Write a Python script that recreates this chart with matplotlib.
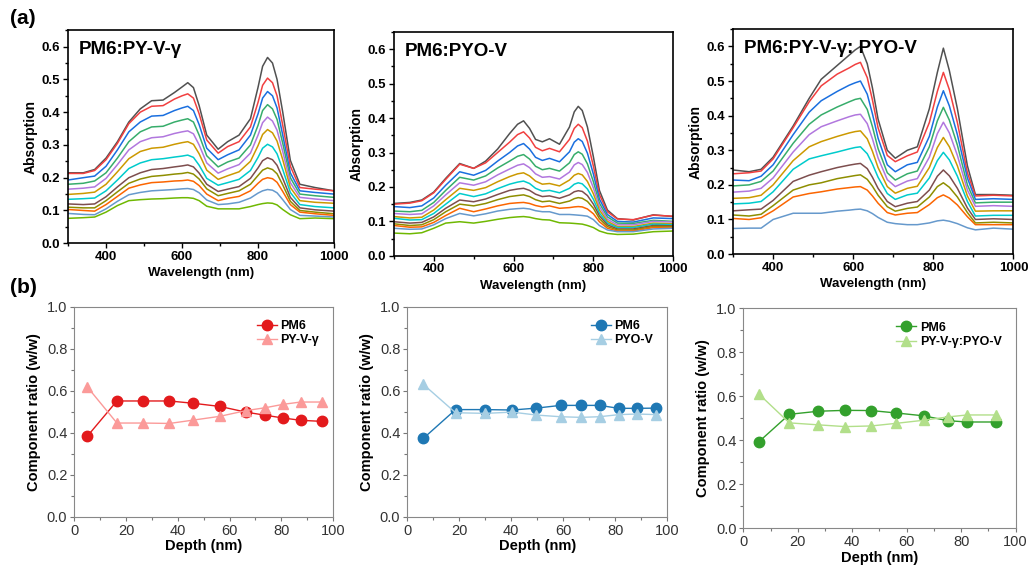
import matplotlib
matplotlib.use('Agg')
import matplotlib.pyplot as plt
from matplotlib.ticker import MultipleLocator

plt.rcParams['font.family'] = ['Liberation Sans', 'DejaVu Sans']

# curve colours (top to bottom)
spec_colors = ['#515151', '#F14040', '#1A6FDF', '#37AD6B', '#B177DE', '#CC9900',
               '#00CBCC', '#7D4E4E', '#8E8E00', '#FB6501', '#6699CC', '#6FB802']

# ---- (a) absorption spectra ----
titles_a = ['PM6:PY-V-γ', 'PM6:PYO-V', 'PM6:PY-V-γ: PYO-V']

wl_1 = [300, 340, 370, 400, 430, 460, 490, 520, 550, 580, 600, 615, 630, 645, 665,
        695, 720, 750, 780, 800, 812, 825, 838, 850, 865, 885, 910, 950, 1000]
abs_1 = [
    [0.215, 0.215, 0.225, 0.26, 0.31, 0.37, 0.41, 0.435, 0.437, 0.46, 0.477, 0.49, 0.475, 0.42, 0.33, 0.287, 0.31, 0.33, 0.38, 0.476, 0.54, 0.567, 0.55, 0.5, 0.4, 0.253, 0.18, 0.17, 0.16],
    [0.213, 0.213, 0.222, 0.255, 0.305, 0.365, 0.4, 0.418, 0.42, 0.44, 0.45, 0.456, 0.443, 0.395, 0.315, 0.275, 0.295, 0.31, 0.355, 0.43, 0.482, 0.504, 0.49, 0.45, 0.36, 0.235, 0.17, 0.165, 0.16],
    [0.193, 0.2, 0.205, 0.235, 0.285, 0.34, 0.37, 0.388, 0.39, 0.405, 0.413, 0.418, 0.405, 0.362, 0.29, 0.255, 0.27, 0.285, 0.33, 0.395, 0.443, 0.463, 0.45, 0.413, 0.33, 0.215, 0.16, 0.155, 0.15],
    [0.18, 0.183, 0.19, 0.215, 0.26, 0.31, 0.34, 0.355, 0.357, 0.37, 0.376, 0.38, 0.37, 0.33, 0.267, 0.233, 0.248, 0.26, 0.3, 0.36, 0.405, 0.423, 0.41, 0.378, 0.305, 0.2, 0.15, 0.145, 0.14],
    [0.165, 0.168, 0.172, 0.198, 0.24, 0.285, 0.31, 0.322, 0.325, 0.335, 0.34, 0.343, 0.334, 0.3, 0.245, 0.214, 0.227, 0.24, 0.275, 0.33, 0.368, 0.385, 0.373, 0.345, 0.28, 0.185, 0.14, 0.135, 0.13],
    [0.149, 0.152, 0.156, 0.18, 0.218, 0.258, 0.28, 0.29, 0.293, 0.302, 0.307, 0.31, 0.302, 0.273, 0.223, 0.195, 0.206, 0.218, 0.25, 0.298, 0.332, 0.347, 0.337, 0.312, 0.255, 0.17, 0.13, 0.125, 0.122],
    [0.134, 0.136, 0.138, 0.16, 0.193, 0.228, 0.245, 0.255, 0.258, 0.263, 0.266, 0.269, 0.262, 0.238, 0.198, 0.177, 0.185, 0.195, 0.222, 0.262, 0.29, 0.302, 0.294, 0.273, 0.225, 0.155, 0.118, 0.112, 0.108],
    [0.12, 0.118, 0.12, 0.142, 0.172, 0.2, 0.215, 0.225, 0.228, 0.233, 0.236, 0.239, 0.233, 0.214, 0.18, 0.158, 0.165, 0.173, 0.198, 0.23, 0.252, 0.261, 0.255, 0.238, 0.198, 0.14, 0.108, 0.102, 0.098],
    [0.11, 0.108, 0.108, 0.13, 0.157, 0.183, 0.196, 0.204, 0.207, 0.211, 0.213, 0.216, 0.211, 0.196, 0.166, 0.145, 0.152, 0.16, 0.18, 0.207, 0.223, 0.23, 0.225, 0.212, 0.178, 0.128, 0.1, 0.095, 0.09],
    [0.103, 0.1, 0.098, 0.118, 0.143, 0.168, 0.178, 0.185, 0.187, 0.19, 0.191, 0.193, 0.189, 0.176, 0.15, 0.13, 0.137, 0.143, 0.16, 0.183, 0.195, 0.2, 0.197, 0.186, 0.158, 0.118, 0.095, 0.09, 0.085],
    [0.091, 0.088, 0.087, 0.105, 0.128, 0.148, 0.155, 0.16, 0.162, 0.164, 0.166, 0.167, 0.164, 0.154, 0.132, 0.118, 0.12, 0.125, 0.138, 0.153, 0.16, 0.164, 0.162, 0.154, 0.133, 0.103, 0.085, 0.083, 0.08],
    [0.076, 0.078, 0.08, 0.095, 0.115, 0.13, 0.133, 0.135, 0.136, 0.138, 0.139, 0.139, 0.137, 0.13, 0.113, 0.105, 0.105, 0.105, 0.112, 0.118, 0.121, 0.123, 0.122, 0.117, 0.103, 0.087, 0.075, 0.077, 0.075],
]

wl_2 = [300, 340, 370, 400, 430, 465, 500, 530, 560, 590, 610, 625, 640, 655, 672,
        690, 715, 740, 752, 762, 772, 785, 800, 815, 835, 860, 900, 950, 1000]
abs_2 = [
    [0.152, 0.155, 0.162, 0.185, 0.225, 0.268, 0.254, 0.275, 0.31, 0.355, 0.382, 0.392, 0.37, 0.338, 0.331, 0.34, 0.324, 0.374, 0.418, 0.434, 0.422, 0.374, 0.287, 0.19, 0.133, 0.108, 0.104, 0.119, 0.114],
    [0.15, 0.153, 0.16, 0.183, 0.222, 0.266, 0.254, 0.27, 0.3, 0.33, 0.352, 0.36, 0.342, 0.315, 0.305, 0.312, 0.302, 0.338, 0.37, 0.382, 0.372, 0.333, 0.26, 0.178, 0.128, 0.107, 0.105, 0.118, 0.115],
    [0.143, 0.14, 0.145, 0.168, 0.205, 0.244, 0.234, 0.248, 0.275, 0.3, 0.319, 0.326, 0.31, 0.286, 0.277, 0.283, 0.273, 0.302, 0.33, 0.34, 0.332, 0.298, 0.237, 0.165, 0.12, 0.1, 0.098, 0.11, 0.108],
    [0.13, 0.128, 0.132, 0.155, 0.19, 0.228, 0.22, 0.232, 0.255, 0.275, 0.289, 0.294, 0.281, 0.26, 0.25, 0.254, 0.246, 0.27, 0.294, 0.302, 0.295, 0.267, 0.215, 0.153, 0.113, 0.095, 0.094, 0.103, 0.1],
    [0.123, 0.12, 0.122, 0.145, 0.177, 0.212, 0.205, 0.215, 0.235, 0.252, 0.263, 0.267, 0.256, 0.238, 0.228, 0.23, 0.223, 0.243, 0.264, 0.271, 0.265, 0.242, 0.197, 0.143, 0.106, 0.09, 0.09, 0.1, 0.098],
    [0.114, 0.11, 0.112, 0.133, 0.163, 0.196, 0.19, 0.198, 0.215, 0.23, 0.238, 0.241, 0.232, 0.217, 0.208, 0.21, 0.203, 0.22, 0.234, 0.239, 0.235, 0.216, 0.18, 0.133, 0.1, 0.085, 0.085, 0.095, 0.093],
    [0.109, 0.104, 0.105, 0.123, 0.15, 0.181, 0.172, 0.18, 0.195, 0.208, 0.214, 0.217, 0.21, 0.196, 0.188, 0.19, 0.183, 0.196, 0.208, 0.212, 0.209, 0.194, 0.164, 0.124, 0.095, 0.082, 0.082, 0.092, 0.09],
    [0.099, 0.095, 0.097, 0.113, 0.138, 0.162, 0.157, 0.165, 0.178, 0.19, 0.194, 0.196, 0.19, 0.179, 0.172, 0.174, 0.167, 0.177, 0.186, 0.189, 0.187, 0.175, 0.15, 0.116, 0.09, 0.078, 0.078, 0.088, 0.087],
    [0.093, 0.088, 0.09, 0.105, 0.128, 0.15, 0.145, 0.152, 0.163, 0.172, 0.175, 0.177, 0.172, 0.163, 0.157, 0.159, 0.152, 0.159, 0.166, 0.169, 0.167, 0.158, 0.138, 0.108, 0.085, 0.075, 0.075, 0.085, 0.085],
    [0.088, 0.083, 0.084, 0.097, 0.117, 0.138, 0.128, 0.136, 0.145, 0.152, 0.154, 0.155, 0.152, 0.146, 0.142, 0.145, 0.138, 0.14, 0.142, 0.143, 0.142, 0.136, 0.122, 0.099, 0.08, 0.072, 0.072, 0.082, 0.082],
    [0.08, 0.077, 0.078, 0.09, 0.108, 0.123, 0.116, 0.122, 0.13, 0.135, 0.137, 0.138, 0.136, 0.131, 0.128, 0.128, 0.12, 0.12, 0.119, 0.118, 0.117, 0.115, 0.105, 0.088, 0.075, 0.07, 0.07, 0.078, 0.08],
    [0.066, 0.064, 0.067, 0.08, 0.095, 0.099, 0.095, 0.1, 0.106, 0.111, 0.113, 0.114, 0.112, 0.108, 0.105, 0.104, 0.096, 0.095, 0.094, 0.093, 0.092, 0.088, 0.082, 0.072, 0.065, 0.062, 0.063, 0.07, 0.072],
]

wl_3 = [300, 340, 370, 400, 450, 490, 520, 560, 590, 605, 618, 635, 648, 662,
        685, 705, 735, 760, 790, 810, 825, 840, 860, 885, 905, 950, 1000]
abs_3 = [
    [0.243, 0.238, 0.245, 0.28, 0.37, 0.45, 0.505, 0.545, 0.575, 0.59, 0.6, 0.55, 0.48, 0.39, 0.3, 0.277, 0.3, 0.31, 0.42, 0.525, 0.595, 0.53, 0.42, 0.255, 0.172, 0.172, 0.17],
    [0.232, 0.235, 0.24, 0.275, 0.365, 0.44, 0.486, 0.52, 0.538, 0.548, 0.554, 0.51, 0.445, 0.365, 0.285, 0.267, 0.284, 0.295, 0.38, 0.47, 0.525, 0.475, 0.38, 0.235, 0.168, 0.17, 0.168],
    [0.214, 0.212, 0.225, 0.258, 0.345, 0.41, 0.443, 0.47, 0.488, 0.495, 0.5, 0.462, 0.405, 0.335, 0.258, 0.238, 0.258, 0.265, 0.34, 0.425, 0.472, 0.428, 0.345, 0.22, 0.158, 0.16, 0.158],
    [0.197, 0.2, 0.21, 0.24, 0.32, 0.375, 0.402, 0.425, 0.44, 0.447, 0.45, 0.418, 0.368, 0.305, 0.235, 0.214, 0.232, 0.24, 0.31, 0.385, 0.424, 0.387, 0.315, 0.2, 0.148, 0.15, 0.15],
    [0.179, 0.182, 0.19, 0.22, 0.295, 0.345, 0.368, 0.385, 0.397, 0.402, 0.404, 0.377, 0.333, 0.278, 0.215, 0.195, 0.211, 0.218, 0.28, 0.348, 0.381, 0.35, 0.285, 0.185, 0.138, 0.14, 0.138],
    [0.161, 0.163, 0.17, 0.2, 0.27, 0.31, 0.325, 0.34, 0.35, 0.354, 0.356, 0.333, 0.297, 0.25, 0.195, 0.176, 0.19, 0.196, 0.25, 0.308, 0.337, 0.31, 0.255, 0.168, 0.124, 0.125, 0.125],
    [0.145, 0.147, 0.152, 0.18, 0.245, 0.275, 0.284, 0.295, 0.304, 0.308, 0.31, 0.29, 0.26, 0.222, 0.175, 0.158, 0.171, 0.176, 0.22, 0.27, 0.294, 0.272, 0.225, 0.152, 0.11, 0.112, 0.112],
    [0.125, 0.128, 0.13, 0.155, 0.21, 0.228, 0.238, 0.25, 0.257, 0.26, 0.262, 0.247, 0.222, 0.19, 0.152, 0.137, 0.147, 0.152, 0.185, 0.225, 0.243, 0.226, 0.19, 0.133, 0.1, 0.102, 0.1],
    [0.113, 0.11, 0.115, 0.14, 0.185, 0.2, 0.206, 0.218, 0.224, 0.227, 0.229, 0.216, 0.196, 0.17, 0.137, 0.124, 0.132, 0.136, 0.165, 0.195, 0.206, 0.193, 0.165, 0.12, 0.09, 0.092, 0.09],
    [0.103, 0.1, 0.105, 0.125, 0.165, 0.175, 0.18, 0.188, 0.192, 0.194, 0.195, 0.185, 0.168, 0.147, 0.12, 0.113, 0.118, 0.12, 0.143, 0.163, 0.171, 0.162, 0.142, 0.108, 0.085, 0.085, 0.085],
    [0.074, 0.075, 0.075, 0.1, 0.118, 0.118, 0.118, 0.124, 0.127, 0.129, 0.13, 0.125, 0.117, 0.106, 0.092, 0.088, 0.085, 0.085, 0.09, 0.096, 0.098, 0.095, 0.088, 0.076, 0.07, 0.075, 0.072],
]

# ---- (b) depth profiles ----
depth_1 = [5.1, 16.5, 26.7, 36.8, 46.0, 56.3, 66.3, 73.9, 80.7, 87.5, 95.6]
pm6_1 = [0.384, 0.551, 0.551, 0.551, 0.540, 0.525, 0.498, 0.483, 0.470, 0.459, 0.454]
acc_1 = [0.617, 0.446, 0.446, 0.444, 0.460, 0.478, 0.505, 0.519, 0.535, 0.546, 0.546]

depth_2 = [6.2, 18.6, 30.1, 40.4, 49.7, 59.0, 66.8, 74.0, 81.4, 88.5, 95.9]
pm6_2 = [0.373, 0.510, 0.510, 0.508, 0.517, 0.530, 0.530, 0.530, 0.516, 0.516, 0.517]
acc_2 = [0.630, 0.495, 0.492, 0.498, 0.484, 0.476, 0.473, 0.476, 0.486, 0.489, 0.486]

depth_3 = [5.8, 16.9, 27.6, 37.4, 47.0, 56.2, 66.3, 75.1, 82.2, 93.0]
pm6_3 = [0.394, 0.518, 0.532, 0.536, 0.535, 0.524, 0.511, 0.489, 0.483, 0.483]
acc_3 = [0.609, 0.479, 0.470, 0.462, 0.465, 0.477, 0.491, 0.506, 0.515, 0.515]

acc_names = ['PY-V-γ', 'PYO-V', 'PY-V-γ:PYO-V']
dark_cols = ['#E31A1C', '#1F78B4', '#33A02C']
light_cols = ['#FB9A99', '#A6CEE3', '#B2DF8A']

fig = plt.figure(figsize=(10.31, 5.71), dpi=100)

top_pos = [[0.066, 0.574, 0.258, 0.373],
           [0.382, 0.552, 0.271, 0.392],
           [0.711, 0.555, 0.272, 0.394]]
bot_pos = [[0.072, 0.095, 0.251, 0.368],
           [0.395, 0.095, 0.252, 0.368],
           [0.721, 0.075, 0.264, 0.385]]

wls = [wl_1, wl_2, wl_3]
specs = [abs_1, abs_2, abs_3]

for i in range(3):
    ax = fig.add_axes(top_pos[i])
    for j, row in enumerate(specs[i]):
        ax.plot(wls[i], row, color=spec_colors[j], lw=1.1, solid_joinstyle='round')
    ax.set_xlim(300, 1000)
    ax.set_ylim(0, 0.65)
    ax.xaxis.set_minor_locator(MultipleLocator(100))
    ax.yaxis.set_major_locator(MultipleLocator(0.1))
    ax.yaxis.set_minor_locator(MultipleLocator(0.05))
    ax.set_xticks([400, 600, 800, 1000])
    ax.tick_params(which='both', direction='out', width=1.0, labelsize=9.5, pad=2)
    ax.tick_params(which='major', length=3.5)
    ax.tick_params(which='minor', length=2)
    for lab in ax.get_xticklabels() + ax.get_yticklabels():
        lab.set_fontweight('bold')
    for sp in ax.spines.values():
        sp.set_linewidth(1.2)
    ax.set_xlabel('Wavelength (nm)', fontsize=9.5, fontweight='bold', labelpad=3)
    ax.set_ylabel('Absorption', fontsize=10, fontweight='bold', labelpad=3)
    ax.text(0.04, 0.95, titles_a[i], transform=ax.transAxes, ha='left', va='top',
            fontsize=13.5, fontweight='bold')

depths = [depth_1, depth_2, depth_3]
pm6s = [pm6_1, pm6_2, pm6_3]
accs = [acc_1, acc_2, acc_3]

for i in range(3):
    ax = fig.add_axes(bot_pos[i])
    ax.plot(depths[i], pm6s[i], '-o', color=dark_cols[i], lw=1.0, ms=7.5, label='PM6')
    ax.plot(depths[i], accs[i], '-^', color=light_cols[i], lw=1.0, ms=7.5, label=acc_names[i])
    ax.set_xlim(0, 100)
    ax.set_ylim(0, 1.0)
    ax.xaxis.set_major_locator(MultipleLocator(20))
    ax.xaxis.set_minor_locator(MultipleLocator(10))
    ax.yaxis.set_major_locator(MultipleLocator(0.2))
    ax.yaxis.set_minor_locator(MultipleLocator(0.1))
    ax.tick_params(which='both', direction='out', color='#777777', width=0.8,
                   labelsize=10.5, labelcolor='#333333', pad=2)
    ax.tick_params(which='major', length=3)
    ax.tick_params(which='minor', length=2)
    for sp in ax.spines.values():
        sp.set_linewidth(0.8)
        sp.set_color('#888888')
    ax.set_xlabel('Depth (nm)', fontsize=10.5, fontweight='bold', labelpad=1)
    ax.set_ylabel('Component ratio (w/w)', fontsize=10.5, fontweight='bold', labelpad=4)
    ax.legend(loc='upper right', frameon=False, prop={'weight': 'bold', 'size': 9},
              handlelength=1.6, handletextpad=0.3, labelspacing=0.2,
              bbox_to_anchor=(0.99, 0.99))

fig.text(0.010, 0.968, '(a)', fontsize=15, fontweight='bold', va='center')
fig.text(0.010, 0.497, '(b)', fontsize=15, fontweight='bold', va='center')

fig.savefig('out.png', dpi=100)
